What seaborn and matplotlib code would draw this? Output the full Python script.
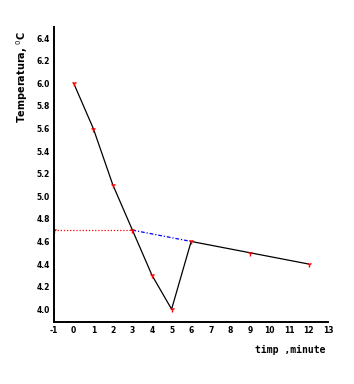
import numpy as np
import pandas as pd
import matplotlib
matplotlib.use('Agg')
import matplotlib.pyplot as plt
import seaborn as sns
from matplotlib.ticker import MultipleLocator

sns.set_style("white")
plt.rcParams['font.family'] = ['DejaVu Sans']
plt.rcParams['text.color'] = 'black'
plt.rcParams['axes.labelcolor'] = 'black'
plt.rcParams['xtick.color'] = 'black'
plt.rcParams['ytick.color'] = 'black'

# date
timp = [0, 1, 2, 3, 4, 5, 6, 9, 12]
temp = [6.0, 5.6, 5.1, 4.7, 4.3, 4.0, 4.6, 4.5, 4.4]

# linia de extrapolare (rosu) si linia intre puncte (albastru)
timp_ext = [-1, 3]
temp_ext = [4.7, 4.7]
timp_leg = [3, 6]
temp_leg = [4.7, 4.6]

df = pd.DataFrame({'timp': timp, 'temp': temp})

fig = plt.figure(figsize=(3.54, 3.84), dpi=100)
ax = fig.add_axes([0.153, 0.161, 0.774, 0.769])

sns.lineplot(x=timp_ext, y=temp_ext, ax=ax, color='red', lw=0.9,
             linestyle=(0, (1, 1.5)))
sns.lineplot(x=timp_leg, y=temp_leg, ax=ax, color='blue', lw=0.9,
             linestyle=(0, (3, 1.5, 1, 1.5)))
sns.lineplot(data=df, x='timp', y='temp', ax=ax, color='black', lw=0.9)
ax.plot(timp + [-1], temp + [4.7], linestyle='none', marker='1',
        color='red', ms=4, mew=1)

ax.set_xlim(-1, 13)
ax.set_ylim(3.885, 6.5)
ax.xaxis.set_major_locator(MultipleLocator(1))
ax.xaxis.set_minor_locator(MultipleLocator(0.5))
ax.yaxis.set_major_locator(MultipleLocator(0.2))
ax.yaxis.set_minor_locator(MultipleLocator(0.1))
ax.tick_params(which='both', direction='in', length=3, width=0.8,
               labelsize=5.5, pad=3, colors='black')
ax.set_xticks(range(-1, 14))
ax.set_xticklabels([str(v) for v in range(-1, 14)], fontweight='bold')
yt = np.round(np.arange(4.0, 6.41, 0.2), 1)
ax.set_yticks(yt)
ax.set_yticklabels([f"{v:.1f}" for v in yt], fontweight='bold')

for s in ['top', 'right']:
    ax.spines[s].set_visible(False)
ax.spines['left'].set_linewidth(1.4)
ax.spines['bottom'].set_linewidth(1.4)
ax.spines['left'].set_color('black')
ax.spines['bottom'].set_color('black')

ax.set_xlabel('')
ax.set_ylabel('Temperatura, $^0$C', fontsize=7, fontweight='bold')
ax.yaxis.set_label_coords(-0.09, 0.83)
fig.text(0.92, 0.088, 'timp ,minute', ha='right', va='center',
         fontsize=7, fontweight='bold', family='DejaVu Sans Mono')

fig.savefig('out.png', dpi=100, facecolor='white')
